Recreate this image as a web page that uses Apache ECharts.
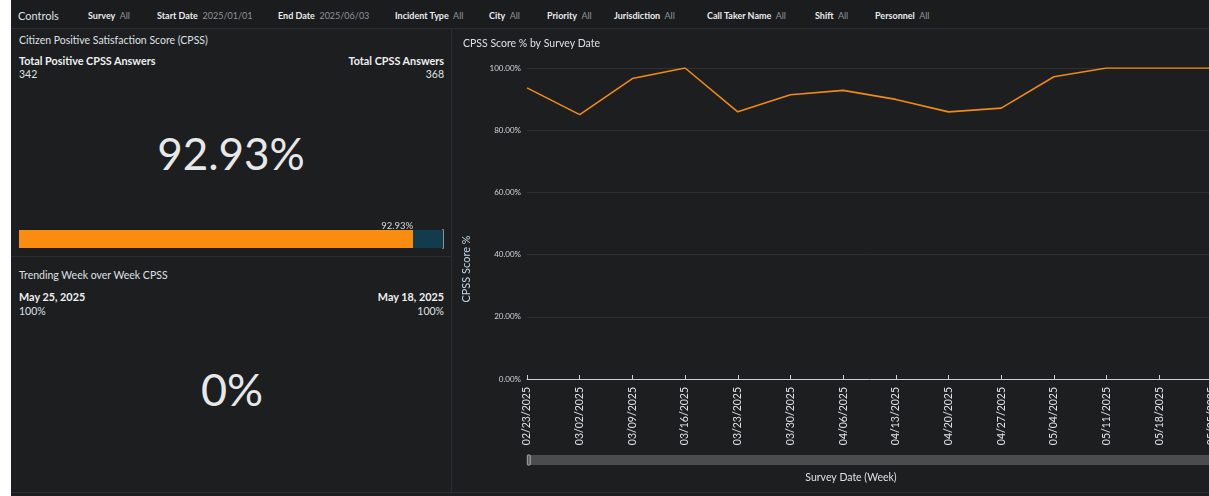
<!DOCTYPE html>
<html>
<head>
<meta charset="utf-8">
<script src="https://cdn.jsdelivr.net/npm/echarts@6/dist/echarts.min.js"></script>
<style>
  html, body { margin: 0; padding: 0; }
  body {
    width: 1209px;
    height: 496px;
    overflow: hidden;
    background: #ffffff;
    position: relative;
    font-family: Lato, "Open Sans", sans-serif;
  }
  #dash {
    position: absolute;
    left: 11px;
    top: 0;
    width: 1260px;
    height: 496px;
    background: #1d1e20;
  }
  #controls {
    position: absolute;
    left: 11px;
    top: 0;
    width: 1260px;
    height: 28px;
    background: #1b1c1e;
    border-bottom: 1px solid #2c2d30;
  }
  .vline { position: absolute; left: 451px; top: 29px; width: 1px; height: 463px; background: #2c2d30; }
  .hline { position: absolute; left: 11px; top: 256px; width: 440px; height: 1px; background: #2c2d30; }
  .bline { position: absolute; left: 11px; top: 492px; width: 1260px; height: 1px; background: #2c2d30; }
  .t { position: absolute; white-space: nowrap; }
  #bar { position: absolute; left: 19px; top: 215px; width: 427px; height: 36px; }
  #line { position: absolute; left: 452px; top: 29px; width: 808px; height: 463px; }
</style>
</head>
<body>
<div id="dash"></div>
<div id="controls"></div>
<div class="vline"></div>
<div class="hline"></div>
<div class="bline"></div>
<div id="bar"></div>
<div id="line"></div>
<script>
const FONT = 'Lato, "Open Sans", sans-serif';

// filter bar
const filterNames = ["Survey", "Start Date", "End Date", "Incident Type", "City", "Priority", "Jurisdiction", "Call Taker Name", "Shift", "Personnel"];
const filterValues = ["All", "2025/01/01", "2025/06/03", "All", "All", "All", "All", "All", "All", "All"];

// KPI numbers
const positiveAnswers = 342;
const totalAnswers = 368;
const trendWeeks = ["May 25, 2025", "May 18, 2025"];
const trendValues = [100, 100];

// line chart
const weeks = ["02/23/2025", "03/02/2025", "03/09/2025", "03/16/2025", "03/23/2025", "03/30/2025", "04/06/2025",
  "04/13/2025", "04/20/2025", "04/27/2025", "05/04/2025", "05/11/2025", "05/18/2025", "05/25/2025"];
const cpssPct = [93.6, 85.0, 96.6, 100, 85.9, 91.4, 92.8, 89.9, 85.9, 87.1, 97.2, 100, 100, 100];
const yTicks = [0, 20, 40, 60, 80, 100];

const score = Math.round(positiveAnswers / totalAnswers * 10000) / 100;
const change = trendValues[0] - trendValues[1];

// small helper for absolutely placed text, y is the vertical centre
function txt(x, y, html, opts) {
  opts = opts || {};
  const d = document.createElement("div");
  d.className = "t";
  const size = opts.size || 10;
  d.style.fontSize = size + "px";
  d.style.lineHeight = Math.round(size * 1.4) + "px";
  d.style.top = (y - Math.round(size * 1.4) / 2) + "px";
  d.style.left = x + "px";
  d.style.color = opts.color || "#d5dbdb";
  if (opts.bold) d.style.fontWeight = "bold";
  if (opts.align === "right") d.style.transform = "translateX(-100%)";
  if (opts.align === "center") d.style.transform = "translateX(-50%)";
  d.innerHTML = html;
  document.body.appendChild(d);
  return d;
}

// controls row
const filterX = [88, 157, 278, 395, 489, 547, 614, 707, 815, 875];
txt(18, 15, "Controls", { size: 11, color: "#dfe3e6" });
filterNames.forEach((n, i) => {
  txt(filterX[i], 15, '<b style="color:#e9ebed">' + n + '</b>&nbsp; <span style="color:#8d9499">' + filterValues[i] + "</span>", { size: 9 });
});

// CPSS panel
txt(19, 40, "Citizen Positive Satisfaction Score (CPSS)", { size: 10.5, color: "#dde1e4" });
txt(19, 60, "Total Positive CPSS Answers", { size: 10.8, bold: true, color: "#eef0f1" });
txt(19, 74, String(positiveAnswers), { size: 10.5, color: "#dde1e4" });
txt(444, 60, "Total CPSS Answers", { size: 10.8, bold: true, color: "#eef0f1", align: "right" });
txt(444, 74, String(totalAnswers), { size: 10.5, color: "#dde1e4", align: "right" });
txt(231, 153, score.toFixed(2) + "%", { size: 44, color: "#e6e8ea", align: "center" });

// trend panel
txt(19, 275, "Trending Week over Week CPSS", { size: 10.5, color: "#dde1e4" });
txt(19, 296, trendWeeks[0], { size: 10.8, bold: true, color: "#eef0f1" });
txt(19, 311, trendValues[0] + "%", { size: 10.5, color: "#dde1e4" });
txt(444, 296, trendWeeks[1], { size: 10.8, bold: true, color: "#eef0f1", align: "right" });
txt(444, 311, trendValues[1] + "%", { size: 10.5, color: "#dde1e4", align: "right" });
txt(232, 389, change + "%", { size: 45, color: "#e6e8ea", align: "center" });

// progress bar
const barChart = echarts.init(document.getElementById("bar"));
barChart.setOption({
  animation: false,
  grid: { left: 0, right: 3, top: 15, bottom: 3 },
  xAxis: { type: "value", min: 0, max: 100, show: false },
  yAxis: {
    type: "category",
    data: ["CPSS"],
    position: "right",
    axisLine: { show: true, onZero: false, lineStyle: { color: "#8b9196", width: 2 } },
    axisTick: { show: false },
    axisLabel: { show: false }
  },
  series: [
    {
      type: "bar",
      stack: "s",
      data: [score],
      barWidth: "100%",
      itemStyle: { color: "#fa8c10" },
      label: {
        show: true,
        position: ["100%", 1],
        align: "right",
        verticalAlign: "bottom",
        formatter: p => p.value.toFixed(2) + "%",
        color: "#d5dbdb",
        fontSize: 9.5,
        fontFamily: FONT
      }
    },
    {
      type: "bar",
      stack: "s",
      data: [100 - score],
      barWidth: "100%",
      itemStyle: { color: "#133b4e" }
    }
  ]
});

// line chart
const lineChart = echarts.init(document.getElementById("line"));
lineChart.setOption({
  animation: false,
  title: {
    text: "CPSS Score % by Survey Date",
    left: 6,
    top: 4,
    textStyle: { color: "#dde1e4", fontSize: 10.5, fontWeight: "normal", fontFamily: FONT }
  },
  grid: { left: 75, right: 48, top: 39, bottom: 113 },
  xAxis: {
    type: "category",
    data: weeks,
    boundaryGap: false,
    axisLine: { lineStyle: { color: "#c9cfd3" } },
    axisTick: { inside: true, length: 4, lineStyle: { color: "#c9cfd3" } },
    axisLabel: { rotate: 90, interval: 0, margin: 8, color: "#e0e4e7", fontSize: 10.5, fontFamily: FONT }
  },
  yAxis: {
    type: "value",
    min: yTicks[0],
    max: yTicks[yTicks.length - 1],
    interval: yTicks[1] - yTicks[0],
    axisLine: { show: false },
    axisTick: { show: false },
    axisLabel: {
      formatter: v => v.toFixed(2) + "%",
      color: "#d0d5d9",
      fontSize: 8,
      margin: 6,
      fontFamily: FONT
    },
    splitLine: { lineStyle: { color: "#303134" } }
  },
  dataZoom: [
    {
      type: "slider",
      xAxisIndex: 0,
      start: 0,
      end: 100,
      left: 75,
      right: 40,
      top: 426,
      height: 10,
      showDetail: false,
      showDataShadow: false,
      brushSelect: false,
      moveHandleSize: 0,
      backgroundColor: "#4b4c4e",
      borderColor: "#4b4c4e",
      fillerColor: "#4b4c4e",
      handleIcon: "path://M1,0 H5 A1,1 0 0 1 6,1 V19 A1,1 0 0 1 5,20 H1 A1,1 0 0 1 0,19 V1 A1,1 0 0 1 1,0 Z",
      handleSize: "100%",
      handleStyle: { color: "#5d5e60", borderColor: "#a3a7ab", borderWidth: 1 },
      dataBackground: { lineStyle: { opacity: 0 }, areaStyle: { opacity: 0 } },
      selectedDataBackground: { lineStyle: { opacity: 0 }, areaStyle: { opacity: 0 } }
    }
  ],
  graphic: [
    {
      type: "text",
      x: 14,
      y: 240,
      rotation: Math.PI / 2,
      style: {
        text: "CPSS Score %",
        fill: "#c3d6e8",
        fontSize: 11,
        fontFamily: FONT,
        textAlign: "center",
        textVerticalAlign: "middle"
      }
    },
    {
      type: "text",
      x: 399,
      y: 449,
      style: {
        text: "Survey Date (Week)",
        fill: "#dde1e4",
        fontSize: 10.5,
        fontFamily: FONT,
        textAlign: "center",
        textVerticalAlign: "middle"
      }
    }
  ],
  series: [
    {
      type: "line",
      data: cpssPct,
      showSymbol: false,
      lineStyle: { color: "#f08a14", width: 1.6 },
      itemStyle: { color: "#f08a14" }
    }
  ]
});
</script>
</body>
</html>
